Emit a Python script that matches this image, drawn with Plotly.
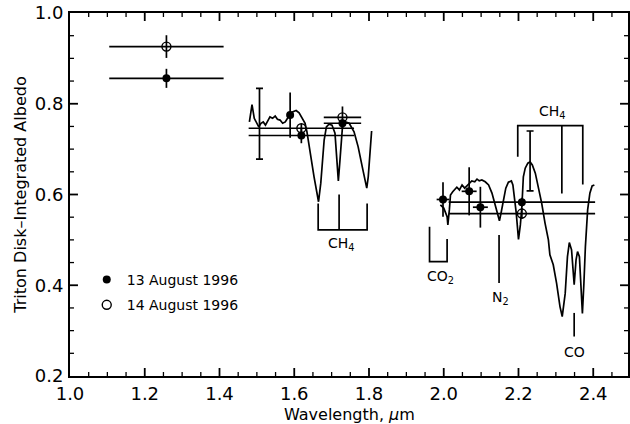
import plotly.graph_objects as go

# ---------------- data ----------------
# 13 August 1996 (filled)
aug13_wl = [1.258, 1.589, 1.619, 1.729, 1.998, 2.068, 2.098, 2.209]
aug13_alb = [0.856, 0.775, 0.730, 0.757, 0.589, 0.607, 0.572, 0.583]
aug13_wl_err = [0.153, 0.008, 0.141, 0.050, 0.017, 0.020, 0.020, 0.196]
aug13_alb_err = [0.021, 0.050, 0.017, 0.010, 0.038, 0.053, 0.045, 0.010]

# 14 August 1996 (open)
aug14_wl = [1.258, 1.619, 1.729, 2.209]
aug14_alb = [0.926, 0.746, 0.770, 0.558]
aug14_wl_err = [0.153, 0.141, 0.050, 0.196]
aug14_alb_err = [0.025, 0.010, 0.024, 0.012]

# representative (capped) uncertainty bars
sys_wl = [1.507, 2.231]
sys_alb = [0.756, 0.674]
sys_err = [0.078, 0.066]

# model / spectrum, H region
spec_h_wl = [1.480, 1.487, 1.493, 1.499, 1.505, 1.511, 1.517, 1.523, 1.529, 1.535,
             1.542, 1.549, 1.555, 1.562, 1.569, 1.576, 1.582, 1.589, 1.595, 1.605,
             1.613, 1.622, 1.629, 1.634, 1.640, 1.653, 1.665, 1.671, 1.680, 1.686,
             1.693, 1.701, 1.709, 1.715, 1.718, 1.723, 1.729, 1.736, 1.747, 1.760,
             1.771, 1.782, 1.794, 1.798, 1.807]
spec_h_alb = [0.760, 0.798, 0.768, 0.760, 0.749, 0.757, 0.760, 0.753, 0.764, 0.771,
              0.768, 0.773, 0.766, 0.764, 0.757, 0.760, 0.768, 0.779, 0.782, 0.785,
              0.780, 0.768, 0.757, 0.738, 0.705, 0.639, 0.584, 0.625, 0.720, 0.749,
              0.755, 0.753, 0.735, 0.669, 0.630, 0.683, 0.749, 0.760, 0.757, 0.738,
              0.705, 0.661, 0.614, 0.639, 0.740]

# model / spectrum, K region
spec_k_wl = [1.991, 2.000, 2.009, 2.011, 2.015, 2.018, 2.024, 2.029, 2.035, 2.042,
             2.049, 2.056, 2.062, 2.069, 2.075, 2.083, 2.089, 2.095, 2.102, 2.111,
             2.120, 2.129, 2.138, 2.144, 2.149, 2.154, 2.160, 2.166, 2.173, 2.181,
             2.185, 2.189, 2.194, 2.200, 2.205, 2.209, 2.213, 2.218, 2.225, 2.231,
             2.237, 2.245, 2.253, 2.262, 2.271, 2.280, 2.284, 2.293, 2.302, 2.311,
             2.317, 2.325, 2.331, 2.336, 2.342, 2.347, 2.349, 2.354, 2.358, 2.363,
             2.367, 2.371, 2.375, 2.379, 2.385, 2.391, 2.397, 2.403]
spec_k_alb = [0.577, 0.570, 0.551, 0.533, 0.566, 0.599, 0.606, 0.610, 0.616, 0.610,
              0.621, 0.614, 0.619, 0.625, 0.630, 0.628, 0.634, 0.630, 0.632, 0.628,
              0.621, 0.603, 0.577, 0.555, 0.542, 0.562, 0.588, 0.614, 0.627, 0.630,
              0.621, 0.595, 0.559, 0.501, 0.533, 0.573, 0.639, 0.658, 0.669, 0.672,
              0.665, 0.647, 0.617, 0.581, 0.537, 0.500, 0.467, 0.445, 0.404, 0.353,
              0.331, 0.382, 0.463, 0.494, 0.478, 0.434, 0.401, 0.456, 0.474, 0.463,
              0.382, 0.338, 0.404, 0.485, 0.566, 0.603, 0.619, 0.621]

# axis ranges and ticks
x_range = [1.0, 2.493]
y_range = [0.2, 1.0]
x_ticks = [1.0, 1.2, 1.4, 1.6, 1.8, 2.0, 2.2, 2.4]
y_ticks = [0.2, 0.4, 0.6, 0.8, 1.0]
minor_step = 0.05

x_title = "Wavelength, <i>μ</i>m"
y_title = "Triton Disk–Integrated Albedo"

# absorption-band markers: (label, label_x, label_y, list of polylines)
bands = [
    ("CH<sub>4</sub>", 1.726, 0.492,
     [[(1.664, 0.580), (1.664, 0.522), (1.795, 0.522), (1.795, 0.580)],
      [(1.720, 0.600), (1.720, 0.522)]]),
    ("CO<sub>2</sub>", 1.990, 0.418,
     [[(1.962, 0.529), (1.962, 0.452), (2.009, 0.452), (2.009, 0.502)]]),
    ("N<sub>2</sub>", 2.151, 0.371,
     [[(2.148, 0.511), (2.148, 0.405)]]),
    ("CO", 2.349, 0.254,
     [[(2.349, 0.339), (2.349, 0.287)]]),
    ("CH<sub>4</sub>", 2.290, 0.782,
     [[(2.198, 0.683), (2.198, 0.752), (2.372, 0.752), (2.372, 0.622)],
      [(2.316, 0.752), (2.316, 0.602)]]),
]

FONT = "DejaVu Sans"
BLACK = "black"
LW = 1.7

W, H = 630, 424
M = dict(l=70, r=0, t=13, b=48)
plot_w = W - M["l"] - M["r"]
plot_h = H - M["t"] - M["b"]

fig = go.Figure()

fig.add_trace(go.Scatter(x=spec_h_wl, y=spec_h_alb, mode="lines",
                         line=dict(color=BLACK, width=LW), showlegend=False,
                         hoverinfo="skip"))
fig.add_trace(go.Scatter(x=spec_k_wl, y=spec_k_alb, mode="lines",
                         line=dict(color=BLACK, width=LW), showlegend=False,
                         hoverinfo="skip"))

fig.add_trace(go.Scatter(
    x=sys_wl, y=sys_alb, mode="markers", marker=dict(size=1, color="rgba(0,0,0,0)"),
    error_y=dict(type="data", array=sys_err, color=BLACK, thickness=LW, width=3.5),
    showlegend=False))

fig.add_trace(go.Scatter(
    x=aug13_wl, y=aug13_alb, mode="markers", name="13 August 1996",
    marker=dict(symbol="circle", size=8, color=BLACK),
    error_x=dict(type="data", array=aug13_wl_err, color=BLACK, thickness=LW, width=0),
    error_y=dict(type="data", array=aug13_alb_err, color=BLACK, thickness=LW, width=0),
    legendgroup="a"))

fig.add_trace(go.Scatter(
    x=aug14_wl, y=aug14_alb, mode="markers", name="14 August 1996",
    marker=dict(symbol="circle-open", size=9, color=BLACK, line=dict(width=1.4)),
    error_x=dict(type="data", array=aug14_wl_err, color=BLACK, thickness=LW, width=0),
    error_y=dict(type="data", array=aug14_alb_err, color=BLACK, thickness=LW, width=0),
    legendgroup="b"))

shapes = []
annotations = []
for label, lx, ly, polylines in bands:
    for pl in polylines:
        path = "M " + " L ".join(f"{px},{py}" for px, py in pl)
        shapes.append(dict(type="path", path=path, xref="x", yref="y",
                           line=dict(color=BLACK, width=LW)))
    annotations.append(dict(x=lx, y=ly, xref="x", yref="y", text=label,
                            showarrow=False, font=dict(family=FONT, size=14, color=BLACK)))

# inside tick marks on all four sides (major + minor), placed on the axis scales
MAJ, MIN = 8, 4


def steps(lo, hi, step):
    n = int(round((hi - lo) / step))
    return [round(lo + i * step, 4) for i in range(n + 1)]


x_minor = [v for v in steps(x_ticks[0], x_range[1] - 1e-6, minor_step)
           if v > x_range[0] and all(abs(v - t) > 1e-6 for t in x_ticks)]
y_minor = [v for v in steps(y_ticks[0], y_range[1], minor_step)
           if y_range[0] < v < y_range[1] and all(abs(v - t) > 1e-6 for t in y_ticks)]

for vals, ln, wd in ((x_ticks, MAJ, 1.8), (x_minor, MIN, 1.3)):
    for v in vals:
        if v <= x_range[0] or v >= x_range[1]:
            continue
        f = ln / plot_h
        shapes.append(dict(type="line", xref="x", yref="paper", x0=v, x1=v, y0=0, y1=f,
                           line=dict(color=BLACK, width=wd), layer="above"))
        shapes.append(dict(type="line", xref="x", yref="paper", x0=v, x1=v, y0=1, y1=1 - f,
                           line=dict(color=BLACK, width=wd), layer="above"))
for vals, ln, wd in ((y_ticks, MAJ, 1.8), (y_minor, MIN, 1.3)):
    for v in vals:
        if v <= y_range[0] or v >= y_range[1]:
            continue
        f = ln / plot_w
        shapes.append(dict(type="line", xref="paper", yref="y", x0=0, x1=f, y0=v, y1=v,
                           line=dict(color=BLACK, width=wd), layer="above"))
        shapes.append(dict(type="line", xref="paper", yref="y", x0=1, x1=1 - f, y0=v, y1=v,
                           line=dict(color=BLACK, width=wd), layer="above"))

annotations.append(dict(x=0.5, y=-0.105, xref="paper", yref="paper", text=x_title,
                        showarrow=False, xanchor="center", yanchor="middle",
                        font=dict(family=FONT, size=16, color=BLACK)))

fig.update_layout(
    width=W, height=H,
    margin=M,
    paper_bgcolor="white", plot_bgcolor="white",
    shapes=shapes, annotations=annotations,
    showlegend=True,
    legend=dict(x=0.03, y=0.23, xanchor="left", yanchor="middle",
                bgcolor="rgba(0,0,0,0)", font=dict(family=FONT, size=14, color=BLACK),
                traceorder="grouped", tracegroupgap=4),
    xaxis=dict(range=x_range, tickvals=x_ticks, ticktext=[f"{v:.1f}" for v in x_ticks],
               showline=True, linecolor=BLACK, linewidth=2, mirror=True,
               ticks="", showgrid=False, zeroline=False,
               tickfont=dict(family=FONT, size=18, color=BLACK),
               ticklabelstandoff=0),
    yaxis=dict(range=y_range, tickvals=y_ticks, ticktext=[f"{v:.1f}" for v in y_ticks],
               showline=True, linecolor=BLACK, linewidth=2, mirror=True,
               ticks="", showgrid=False, zeroline=False,
               tickfont=dict(family=FONT, size=18, color=BLACK),
               ticklabelstandoff=1,
               title=dict(text=y_title, font=dict(family=FONT, size=16, color=BLACK), standoff=4)),
)

fig.write_html("out.html")
